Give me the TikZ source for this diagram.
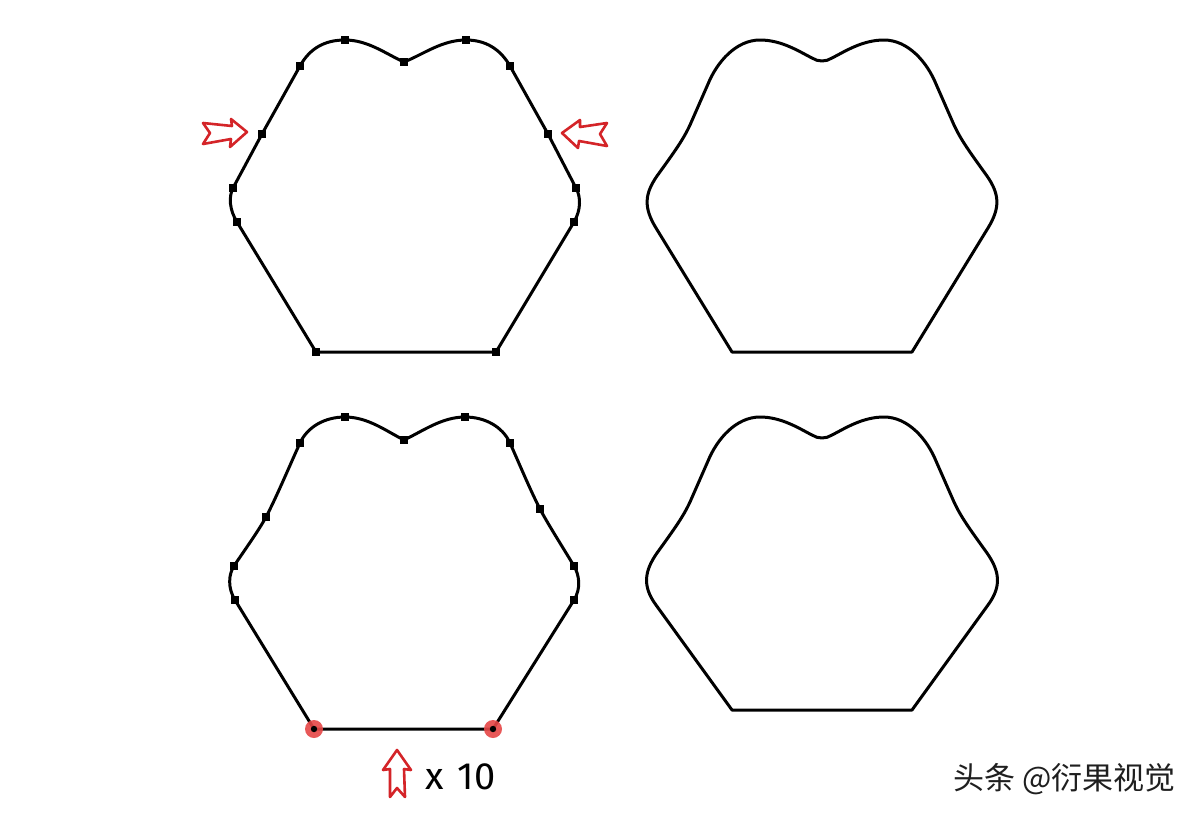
\documentclass[tikz,border=0pt]{standalone}
\usepackage{fontspec}
\newfontfamily\cjk{Noto Sans CJK SC}
\newfontfamily\handfont{Fira Sans}
\definecolor{arrowred}{RGB}{212,36,40}
\definecolor{halored}{RGB}{230,70,70}
\begin{document}
\begin{tikzpicture}[x=0.5pt,y=-0.5pt,
  outline/.style={draw=black,line width=1.5pt,line join=round},
  marker/.style={rectangle,fill=black,draw=none,inner sep=0pt,minimum size=3.6pt},
  halo/.style={circle,fill=halored,fill opacity=0.9,draw=none,inner sep=0pt,minimum size=9pt},
  blackdot/.style={circle,fill=black,draw=none,inner sep=0pt,minimum size=3.2pt},
  redarrow/.style={draw=arrowred,line width=1.3pt,line join=round}]
\fill[white] (0,0) rectangle (1200,820);
\useasboundingbox (0,0) rectangle (1200,820);

% ---------- top-left: polygon with points ----------
\coordinate (tlB1) at (316,352);
\coordinate (tlL1) at (237,222);
\coordinate (tlL2) at (233,188);
\coordinate (tlL3) at (262,134);
\coordinate (tlL4) at (300,66);
\coordinate (tlP1) at (345,40);
\coordinate (tlD)  at (404,62);
\coordinate (tlP2) at (466,40);
\coordinate (tlR4) at (510,66);
\coordinate (tlR3) at (548,134);
\coordinate (tlR2) at (576,188);
\coordinate (tlR1) at (574,222);
\coordinate (tlB2) at (496,352);
\draw[outline] (tlB1) -- (tlL1) .. controls (229.5,210) and (228.5,197) .. (tlL2)
  -- (tlL3) -- (tlL4) .. controls (310,48) and (325,40) .. (tlP1)
  .. controls (368,40) and (386,54) .. (tlD)
  .. controls (424,54) and (442,40) .. (tlP2)
  .. controls (485,40) and (500,48.5) .. (tlR4)
  -- (tlR3) -- (tlR2) .. controls (581,197) and (581,210) .. (tlR1)
  -- (tlB2) -- cycle;
\foreach \p in {tlB1,tlL1,tlL2,tlL3,tlL4,tlP1,tlD,tlP2,tlR4,tlR3,tlR2,tlR1,tlB2}
  \node[marker] (m\p) at (\p) {};

% red arrows
\draw[redarrow] (247,132) -- (231,119) -- (232,126) -- (203,123) -- (210,133)
  -- (203,144) -- (231,139) -- (230,147) -- cycle;
\draw[redarrow] (562,133) -- (580,120) -- (580,127) -- (607,123) -- (600,134)
  -- (607,146) -- (579,141) -- (578,148) -- cycle;

% ---------- top-right: smoothed ----------
\draw[outline] (732,352) -- (656,228) .. controls (643.5,207.6) and (644.5,194) .. (657,176)
  .. controls (675,151) and (683,140) .. (690,125) -- (708,84)
  .. controls (717,62) and (736,40) .. (760,40)
  .. controls (782,40) and (800,52) .. (812,58)
  .. controls (818,62) and (826,62) .. (832,58)
  .. controls (844,52) and (862,40) .. (884,40)
  .. controls (908,40) and (927,62) .. (936,84) -- (954,125)
  .. controls (961,140) and (969,151) .. (987,176)
  .. controls (999.5,194) and (1000.5,207.6) .. (988,228) -- (912,352) -- cycle;

% ---------- bottom-left: polygon with points ----------
\coordinate (blB1) at (314,729);
\coordinate (blL1) at (235,600);
\coordinate (blL2) at (234,566);
\coordinate (blL3) at (266,517);
\coordinate (blL4) at (300,443);
\coordinate (blP1) at (345,417);
\coordinate (blD)  at (404,440);
\coordinate (blP2) at (465,417);
\coordinate (blR4) at (510,443);
\coordinate (blR3) at (540,509);
\coordinate (blR2) at (574,566);
\coordinate (blR1) at (574,600);
\coordinate (blB2) at (493,729);
\draw[outline] (blB1) -- (blL1) .. controls (227.6,588) and (228.5,574.4) .. (blL2)
  .. controls (242.8,552.6) and (258.5,531) .. (blL3)
  .. controls (276.3,497.6) and (290.8,463) .. (blL4)
  .. controls (307.6,426.6) and (325,417) .. (blP1)
  .. controls (368,417) and (386,431) .. (blD)
  .. controls (423,431) and (442,417) .. (blP2)
  .. controls (485,417) and (502.6,426.6) .. (blR4)
  .. controls (519,463) and (529.9,489.4) .. (blR3)
  .. controls (547.4,523.2) and (565.8,552.2) .. (blR2)
  .. controls (579.1,574.6) and (581.4,588.1) .. (blR1)
  -- (blB2) -- cycle;
\foreach \p in {blL1,blL2,blL3,blL4,blP1,blD,blP2,blR4,blR3,blR2,blR1}
  \node[marker] (m\p) at (\p) {};
\node[halo] (hblB1) at (blB1) {};
\node[halo] (hblB2) at (blB2) {};
\node[blackdot] (dblB1) at (blB1) {};
\node[blackdot] (dblB2) at (blB2) {};

% up arrow and label
\draw[redarrow] (397,750) -- (411,770) -- (404,769) -- (405,797) -- (397,788)
  -- (390,797) -- (390,769) -- (383,770) -- cycle;
\node[font=\handfont\fontsize{19}{22}\selectfont,anchor=west,inner sep=0pt] (times) at (425,777) {x\hspace{2pt} 10};

% ---------- bottom-right: smoothed, bottom raised ----------
\draw[outline] (732,710) -- (656,605) .. controls (642,586) and (644.5,571) .. (657,553)
  .. controls (675,528) and (683,517) .. (690,502) -- (708,461)
  .. controls (717,439) and (736,417) .. (760,417)
  .. controls (782,417) and (800,429) .. (812,435)
  .. controls (818,439) and (826,439) .. (832,435)
  .. controls (844,429) and (862,417) .. (884,417)
  .. controls (908,417) and (927,439) .. (936,461) -- (954,502)
  .. controls (961,517) and (969,528) .. (987,553)
  .. controls (999.5,571) and (1002,586) .. (988,605) -- (912,710) -- cycle;

% watermark
\node[font=\cjk\fontsize{15.5}{18}\selectfont,text=black!88,anchor=east,inner sep=0pt] (wm) at (1176,779) {头条 @衍果视觉};
\end{tikzpicture}
\end{document}
